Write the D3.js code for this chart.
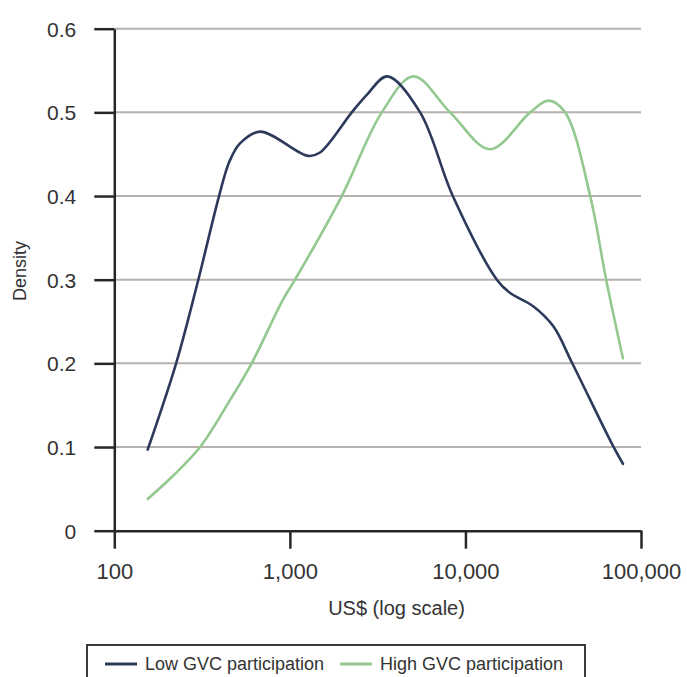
<!DOCTYPE html>
<html>
<head>
<meta charset="utf-8">
<script src="https://cdn.jsdelivr.net/npm/d3@7/dist/d3.min.js"></script>
<style>
  html, body { margin: 0; padding: 0; background: #fff; }
  svg { display: block; font-family: "Liberation Sans", Arial, sans-serif; }
</style>
</head>
<body>
<svg id="chart" width="687" height="677"></svg>
<script>
// Income per capita (US$) and kernel density for each group
const lowIncome  = [155, 225, 301, 395, 452, 520, 676, 1274, 1486, 2253, 2743, 3594, 5520, 8475, 15100, 17970, 24420, 31750, 40400, 69400, 78900];
const lowDensity = [0.097, 0.200, 0.300, 0.400, 0.441, 0.463, 0.477, 0.448, 0.452, 0.500, 0.521, 0.543, 0.500, 0.400, 0.300, 0.284, 0.268, 0.244, 0.201, 0.101, 0.080];

const highIncome  = [155, 217, 308, 456, 606, 912, 1070, 1975, 3339, 5055, 8180, 13820, 23370, 29720, 36980, 51350, 63340, 78900];
const highDensity = [0.038, 0.066, 0.100, 0.156, 0.200, 0.276, 0.300, 0.400, 0.500, 0.543, 0.500, 0.456, 0.500, 0.514, 0.500, 0.400, 0.300, 0.206];

const xTicks = [100, 1000, 10000, 100000];
const yTicks = [0, 0.1, 0.2, 0.3, 0.4, 0.5, 0.6];

const seriesNames = ["Low GVC participation", "High GVC participation"];
const seriesColors = ["#2e3a5c", "#93c98f"];

const svg = d3.select("#chart");

const x = d3.scaleLog().domain([100, 100000]).range([114.3, 641]);
const y = d3.scaleLinear().domain([0, 0.6]).range([530.7, 28.7]);

// horizontal gridlines
svg.append("g")
  .selectAll("line")
  .data(yTicks.filter(d => d > 0))
  .join("line")
  .attr("x1", x(100)).attr("x2", x(100000))
  .attr("y1", d => y(d)).attr("y2", d => y(d))
  .attr("stroke", "#b7b1ad")
  .attr("stroke-width", 2);

// y axis
const yAxis = svg.append("g")
  .attr("transform", `translate(${x(100)},0)`)
  .call(d3.axisLeft(y).tickValues(yTicks).tickFormat(d3.format("")).tickSizeInner(20).tickSizeOuter(0).tickPadding(18));

// x axis
const xAxis = svg.append("g")
  .attr("transform", `translate(0,${y(0)})`)
  .call(d3.axisBottom(x).tickValues(xTicks).tickFormat(d3.format(",")).tickSizeInner(18).tickSizeOuter(0).tickPadding(14));

[yAxis, xAxis].forEach(g => {
  g.selectAll("path.domain").attr("stroke", "#262626").attr("stroke-width", 2.5);
  g.selectAll(".tick line").attr("stroke", "#262626").attr("stroke-width", 2.5);
  g.selectAll(".tick text")
    .attr("fill", "#333")
    .style("font-family", "'Liberation Sans', Arial, sans-serif");
});
yAxis.selectAll(".tick text").attr("dy", "0.36em").style("font-size", "21px");
xAxis.selectAll(".tick text").attr("dy", "0.72em").style("font-size", "22px");

// axis titles
svg.append("text")
  .attr("transform", `translate(26,271) rotate(-90)`)
  .attr("text-anchor", "middle")
  .attr("fill", "#333")
  .style("font-size", "18px")
  .text("Density");

svg.append("text")
  .attr("x", 396.5).attr("y", 615)
  .attr("text-anchor", "middle")
  .attr("fill", "#333")
  .style("font-size", "20px")
  .text("US$ (log scale)");

// density curves
const line = d3.line()
  .x(d => x(d[0]))
  .y(d => y(d[1]))
  .curve(d3.curveCatmullRom.alpha(0.5));

const series = [
  lowIncome.map((v, i) => [v, lowDensity[i]]),
  highIncome.map((v, i) => [v, highDensity[i]])
];

svg.append("g")
  .selectAll("path")
  .data([series[1], series[0]])
  .join("path")
  .attr("d", line)
  .attr("fill", "none")
  .attr("stroke", (d, i) => i === 0 ? seriesColors[1] : seriesColors[0])
  .attr("stroke-width", 2.6)
  .attr("stroke-linejoin", "round")
  .attr("stroke-linecap", "round");

// legend
const legend = svg.append("g");
legend.append("rect")
  .attr("x", 87).attr("y", 645)
  .attr("width", 498).attr("height", 50)
  .attr("fill", "#fff")
  .attr("stroke", "#3a3a3a")
  .attr("stroke-width", 2);

const legendItems = [
  { name: seriesNames[0], color: seriesColors[0], x0: 105 },
  { name: seriesNames[1], color: seriesColors[1], x0: 340 }
];
legendItems.forEach(it => {
  legend.append("line")
    .attr("x1", it.x0).attr("x2", it.x0 + 32)
    .attr("y1", 664).attr("y2", 664)
    .attr("stroke", it.color)
    .attr("stroke-width", 3);
  legend.append("text")
    .attr("x", it.x0 + 40).attr("y", 664)
    .attr("dy", "0.35em")
    .attr("fill", "#333")
    .style("font-size", "18px")
    .text(it.name);
});
</script>
</body>
</html>
